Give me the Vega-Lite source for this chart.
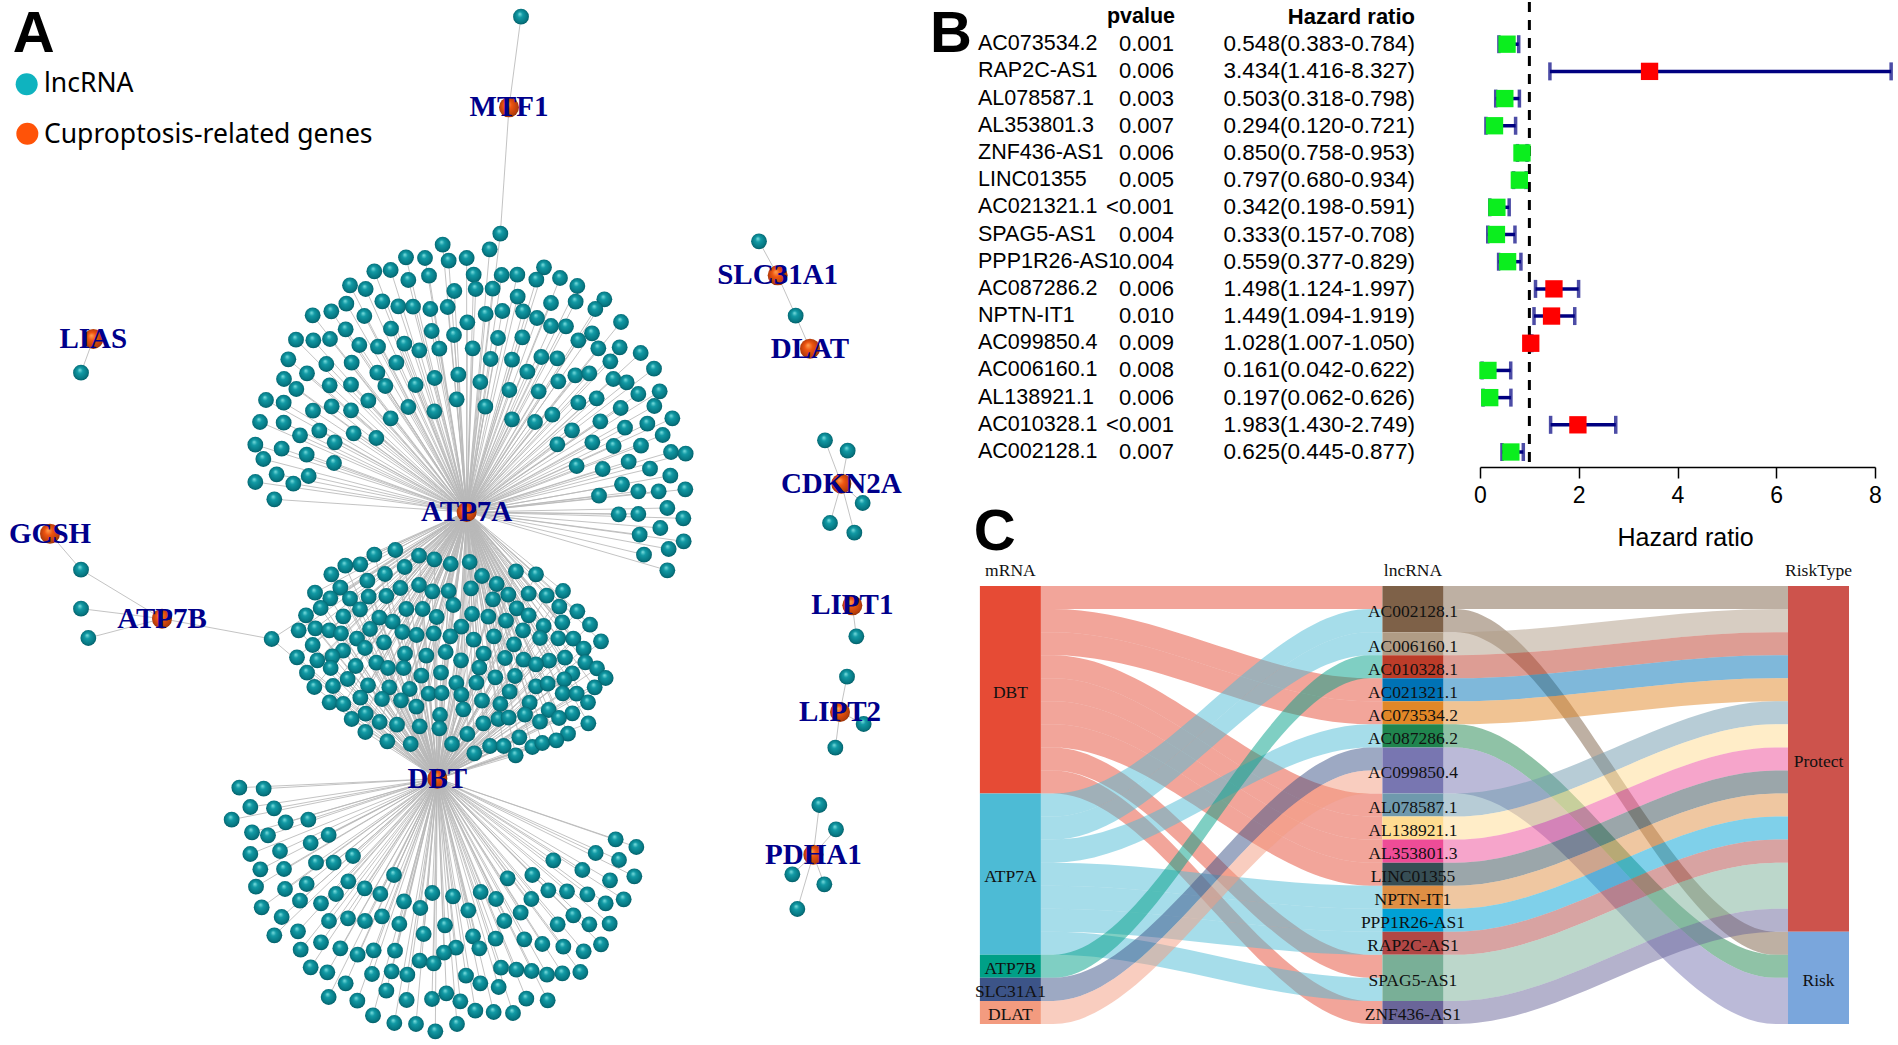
{"$schema":"https://vega.github.io/schema/vega-lite/v6.json","padding":0,"background":"white","bounds":"flush","spacing":0,"config":{"view":{"stroke":null},"concat":{"spacing":0}},
"datasets":{
"hubs":[{"gene":"MTF1","x":1527,"y":316},{"gene":"LIAS","x":280,"y":1011},{"gene":"ATP7A","x":1400,"y":1530},{"gene":"GCSH","x":150,"y":1595},{"gene":"ATP7B","x":486,"y":1850},{"gene":"DBT","x":1312,"y":2330},{"gene":"SLC31A1","x":2333,"y":820},{"gene":"DLAT","x":2430,"y":1040},{"gene":"CDKN2A","x":2524,"y":1445},{"gene":"LIPT1","x":2557,"y":1810},{"gene":"LIPT2","x":2520,"y":2130},{"gene":"PDHA1","x":2440,"y":2558}],
"nodes":[
{"x":1563,"y":44,"h":["MTF1"]},{"x":243,"y":1112,"h":["LIAS"]},{"x":243,"y":1703,"h":["GCSH","ATP7B"]},{"x":243,"y":1820,"h":["ATP7B"]},{"x":265,"y":1908,"h":["ATP7B"]},{"x":815,"y":1911,"h":["ATP7B","ATP7A","DBT"]},{"x":2277,"y":718,"h":["SLC31A1"]},{"x":2387,"y":941,"h":["SLC31A1","DLAT"]},{"x":2475,"y":1315,"h":["CDKN2A"]},{"x":2543,"y":1346,"h":["CDKN2A"]},{"x":2588,"y":1503,"h":["CDKN2A"]},{"x":2490,"y":1563,"h":["CDKN2A"]},{"x":2563,"y":1592,"h":["CDKN2A"]},{"x":2569,"y":1903,"h":["LIPT1"]},{"x":2541,"y":2024,"h":["LIPT2"]},{"x":2591,"y":2166,"h":["LIPT2"]},{"x":2506,"y":2237,"h":["LIPT2"]},{"x":2458,"y":2409,"h":["PDHA1"]},{"x":2508,"y":2482,"h":["PDHA1"]},{"x":2377,"y":2617,"h":["PDHA1"]},{"x":2473,"y":2647,"h":["PDHA1"]},{"x":2392,"y":2721,"h":["PDHA1"]},
{"x":1501,"y":695,"h":["ATP7A","MTF1"]},{"x":1469,"y":742,"h":["ATP7A"]},{"x":1328,"y":728,"h":["ATP7A"]},{"x":1218,"y":766,"h":["ATP7A"]},{"x":1275,"y":768,"h":["ATP7A"]},{"x":1346,"y":776,"h":["ATP7A"]},{"x":1400,"y":768,"h":["ATP7A"]},{"x":1123,"y":808,"h":["ATP7A"]},{"x":1172,"y":804,"h":["ATP7A"]},{"x":1225,"y":834,"h":["ATP7A"]},{"x":1287,"y":821,"h":["ATP7A"]},{"x":1421,"y":818,"h":["ATP7A"]},{"x":1505,"y":819,"h":["ATP7A"]},{"x":1552,"y":818,"h":["ATP7A"]},{"x":1632,"y":796,"h":["ATP7A"]},{"x":1609,"y":833,"h":["ATP7A"]},{"x":1680,"y":828,"h":["ATP7A"]},{"x":1732,"y":852,"h":["ATP7A"]},{"x":1050,"y":850,"h":["ATP7A"]},{"x":1097,"y":861,"h":["ATP7A"]},{"x":1363,"y":867,"h":["ATP7A"]},{"x":1427,"y":861,"h":["ATP7A"]},{"x":1478,"y":860,"h":["ATP7A"]},{"x":1553,"y":884,"h":["ATP7A"]},{"x":1813,"y":892,"h":["ATP7A"]},{"x":1727,"y":899,"h":["ATP7A"]},{"x":1653,"y":903,"h":["ATP7A"]},{"x":1786,"y":921,"h":["ATP7A"]},{"x":1039,"y":905,"h":["ATP7A"]},{"x":1147,"y":898,"h":["ATP7A"]},{"x":1195,"y":913,"h":["ATP7A"]},{"x":1239,"y":914,"h":["ATP7A"]},{"x":1291,"y":921,"h":["ATP7A"]},{"x":1343,"y":915,"h":["ATP7A"]},{"x":938,"y":940,"h":["ATP7A"]},{"x":994,"y":928,"h":["ATP7A"]},{"x":1093,"y":942,"h":["ATP7A"]},{"x":1457,"y":936,"h":["ATP7A"]},{"x":1507,"y":927,"h":["ATP7A"]},{"x":1569,"y":928,"h":["ATP7A"]},{"x":1611,"y":948,"h":["ATP7A"]},{"x":1402,"y":961,"h":["ATP7A"]},{"x":1863,"y":960,"h":["ATP7A"]},{"x":1037,"y":982,"h":["ATP7A"]},{"x":1173,"y":980,"h":["ATP7A"]},{"x":1295,"y":987,"h":["ATP7A"]},{"x":1362,"y":999,"h":["ATP7A"]},{"x":1653,"y":972,"h":["ATP7A"]},{"x":1698,"y":973,"h":["ATP7A"]},{"x":1776,"y":994,"h":["ATP7A"]},{"x":1735,"y":1015,"h":["ATP7A"]},{"x":888,"y":1013,"h":["ATP7A"]},{"x":940,"y":1015,"h":["ATP7A"]},{"x":990,"y":1011,"h":["ATP7A"]},{"x":1078,"y":1029,"h":["ATP7A"]},{"x":1134,"y":1034,"h":["ATP7A"]},{"x":1213,"y":1025,"h":["ATP7A"]},{"x":1258,"y":1045,"h":["ATP7A"]},{"x":1318,"y":1040,"h":["ATP7A"]},{"x":1418,"y":1039,"h":["ATP7A"]},{"x":1494,"y":1008,"h":["ATP7A"]},{"x":1567,"y":1006,"h":["ATP7A"]},{"x":1795,"y":1039,"h":["ATP7A"]},{"x":1859,"y":1036,"h":["ATP7A"]},{"x":1922,"y":1053,"h":["ATP7A"]},{"x":865,"y":1072,"h":["ATP7A"]},{"x":979,"y":1086,"h":["ATP7A"]},{"x":1055,"y":1082,"h":["ATP7A"]},{"x":1189,"y":1082,"h":["ATP7A"]},{"x":1472,"y":1071,"h":["ATP7A"]},{"x":1536,"y":1073,"h":["ATP7A"]},{"x":1624,"y":1065,"h":["ATP7A"]},{"x":1672,"y":1069,"h":["ATP7A"]},{"x":1831,"y":1078,"h":["ATP7A"]},{"x":1962,"y":1100,"h":["ATP7A"]},{"x":852,"y":1131,"h":["ATP7A"]},{"x":921,"y":1114,"h":["ATP7A"]},{"x":1132,"y":1112,"h":["ATP7A"]},{"x":1375,"y":1118,"h":["ATP7A"]},{"x":1304,"y":1128,"h":["ATP7A"]},{"x":1582,"y":1109,"h":["ATP7A"]},{"x":1726,"y":1120,"h":["ATP7A"]},{"x":1768,"y":1114,"h":["ATP7A"]},{"x":1840,"y":1131,"h":["ATP7A"]},{"x":1880,"y":1141,"h":["ATP7A"]},{"x":889,"y":1161,"h":["ATP7A"]},{"x":989,"y":1150,"h":["ATP7A"]},{"x":1053,"y":1148,"h":["ATP7A"]},{"x":1156,"y":1152,"h":["ATP7A"]},{"x":1247,"y":1149,"h":["ATP7A"]},{"x":1441,"y":1140,"h":["ATP7A"]},{"x":1528,"y":1164,"h":["ATP7A"]},{"x":1616,"y":1168,"h":["ATP7A"]},{"x":1675,"y":1138,"h":["ATP7A"]},{"x":1915,"y":1176,"h":["ATP7A"]},{"x":1979,"y":1168,"h":["ATP7A"]},{"x":798,"y":1194,"h":["ATP7A"]},{"x":851,"y":1202,"h":["ATP7A"]},{"x":1105,"y":1196,"h":["ATP7A"]},{"x":1370,"y":1192,"h":["ATP7A"]},{"x":1735,"y":1202,"h":["ATP7A"]},{"x":1790,"y":1189,"h":["ATP7A"]},{"x":1862,"y":1218,"h":["ATP7A"]},{"x":1963,"y":1212,"h":["ATP7A"]},{"x":939,"y":1226,"h":["ATP7A"]},{"x":995,"y":1213,"h":["ATP7A"]},{"x":1053,"y":1225,"h":["ATP7A"]},{"x":1225,"y":1215,"h":["ATP7A"]},{"x":1303,"y":1228,"h":["ATP7A"]},{"x":1456,"y":1214,"h":["ATP7A"]},{"x":1657,"y":1238,"h":["ATP7A"]},{"x":2017,"y":1249,"h":["ATP7A"]},{"x":780,"y":1260,"h":["ATP7A"]},{"x":851,"y":1262,"h":["ATP7A"]},{"x":1172,"y":1249,"h":["ATP7A"]},{"x":1536,"y":1252,"h":["ATP7A"]},{"x":1605,"y":1260,"h":["ATP7A"]},{"x":1801,"y":1258,"h":["ATP7A"]},{"x":1875,"y":1277,"h":["ATP7A"]},{"x":1942,"y":1265,"h":["ATP7A"]},{"x":958,"y":1286,"h":["ATP7A"]},{"x":900,"y":1300,"h":["ATP7A"]},{"x":1061,"y":1294,"h":["ATP7A"]},{"x":1129,"y":1308,"h":["ATP7A"]},{"x":1716,"y":1285,"h":["ATP7A"]},{"x":1988,"y":1299,"h":["ATP7A"]},{"x":766,"y":1328,"h":["ATP7A"]},{"x":1004,"y":1321,"h":["ATP7A"]},{"x":1672,"y":1327,"h":["ATP7A"]},{"x":1777,"y":1321,"h":["ATP7A"]},{"x":1841,"y":1332,"h":["ATP7A"]},{"x":1923,"y":1331,"h":["ATP7A"]},{"x":845,"y":1340,"h":["ATP7A"]},{"x":920,"y":1358,"h":["ATP7A"]},{"x":2013,"y":1350,"h":["ATP7A"]},{"x":2057,"y":1355,"h":["ATP7A"]},{"x":790,"y":1371,"h":["ATP7A"]},{"x":1002,"y":1383,"h":["ATP7A"]},{"x":1886,"y":1379,"h":["ATP7A"]},{"x":1730,"y":1392,"h":["ATP7A"]},{"x":1808,"y":1401,"h":["ATP7A"]},{"x":1950,"y":1400,"h":["ATP7A"]},{"x":830,"y":1417,"h":["ATP7A"]},{"x":926,"y":1422,"h":["ATP7A"]},{"x":2011,"y":1421,"h":["ATP7A"]},{"x":766,"y":1440,"h":["ATP7A"]},{"x":880,"y":1445,"h":["ATP7A"]},{"x":1866,"y":1447,"h":["ATP7A"]},{"x":1915,"y":1468,"h":["ATP7A"]},{"x":1976,"y":1468,"h":["ATP7A"]},{"x":2056,"y":1462,"h":["ATP7A"]},{"x":823,"y":1492,"h":["ATP7A"]},{"x":1797,"y":1481,"h":["ATP7A"]},{"x":1856,"y":1537,"h":["ATP7A"]},{"x":1915,"y":1536,"h":["ATP7A"]},{"x":2002,"y":1518,"h":["ATP7A"]},{"x":2050,"y":1549,"h":["ATP7A"]},{"x":1981,"y":1578,"h":["ATP7A"]},{"x":1919,"y":1598,"h":["ATP7A"]},{"x":2051,"y":1618,"h":["ATP7A"]},{"x":2006,"y":1641,"h":["ATP7A"]},{"x":1932,"y":1658,"h":["ATP7A"]},{"x":2002,"y":1705,"h":["ATP7A"]},
{"x":1186,"y":1644,"h":["ATP7A","DBT"]},{"x":1123,"y":1658,"h":["ATP7A","DBT"]},{"x":1081,"y":1687,"h":["ATP7A","DBT"]},{"x":1036,"y":1691,"h":["ATP7A","DBT"]},{"x":994,"y":1717,"h":["ATP7A","DBT"]},{"x":1257,"y":1661,"h":["ATP7A","DBT"]},{"x":1303,"y":1672,"h":["ATP7A","DBT"]},{"x":1352,"y":1686,"h":["ATP7A","DBT"]},{"x":1409,"y":1680,"h":["ATP7A","DBT"]},{"x":1214,"y":1695,"h":["ATP7A","DBT"]},{"x":1155,"y":1716,"h":["ATP7A","DBT"]},{"x":1102,"y":1736,"h":["ATP7A","DBT"]},{"x":1021,"y":1757,"h":["ATP7A","DBT"]},{"x":945,"y":1772,"h":["ATP7A","DBT"]},{"x":991,"y":1789,"h":["ATP7A","DBT"]},{"x":1050,"y":1790,"h":["ATP7A","DBT"]},{"x":1106,"y":1784,"h":["ATP7A","DBT"]},{"x":1159,"y":1782,"h":["ATP7A","DBT"]},{"x":1201,"y":1758,"h":["ATP7A","DBT"]},{"x":1257,"y":1749,"h":["ATP7A","DBT"]},{"x":1297,"y":1768,"h":["ATP7A","DBT"]},{"x":1346,"y":1767,"h":["ATP7A","DBT"]},{"x":1413,"y":1759,"h":["ATP7A","DBT"]},{"x":1446,"y":1722,"h":["ATP7A","DBT"]},{"x":1490,"y":1746,"h":["ATP7A","DBT"]},{"x":1548,"y":1708,"h":["ATP7A","DBT"]},{"x":1608,"y":1717,"h":["ATP7A","DBT"]},{"x":1525,"y":1778,"h":["ATP7A","DBT"]},{"x":1479,"y":1792,"h":["ATP7A","DBT"]},{"x":1586,"y":1775,"h":["ATP7A","DBT"]},{"x":1640,"y":1781,"h":["ATP7A","DBT"]},{"x":1689,"y":1767,"h":["ATP7A","DBT"]},{"x":1678,"y":1814,"h":["ATP7A","DBT"]},{"x":1732,"y":1828,"h":["ATP7A","DBT"]},{"x":962,"y":1818,"h":["ATP7A","DBT"]},{"x":918,"y":1840,"h":["ATP7A","DBT"]},{"x":1030,"y":1843,"h":["ATP7A","DBT"]},{"x":1080,"y":1822,"h":["ATP7A","DBT"]},{"x":1219,"y":1821,"h":["ATP7A","DBT"]},{"x":1268,"y":1821,"h":["ATP7A","DBT"]},{"x":1360,"y":1809,"h":["ATP7A","DBT"]},{"x":1416,"y":1836,"h":["ATP7A","DBT"]},{"x":1465,"y":1844,"h":["ATP7A","DBT"]},{"x":1550,"y":1819,"h":["ATP7A","DBT"]},{"x":1586,"y":1840,"h":["ATP7A","DBT"]},{"x":1518,"y":1856,"h":["ATP7A","DBT"]},{"x":1687,"y":1861,"h":["ATP7A","DBT"]},{"x":1770,"y":1868,"h":["ATP7A","DBT"]},{"x":1138,"y":1847,"h":["ATP7A","DBT"]},{"x":1178,"y":1859,"h":["ATP7A","DBT"]},{"x":1310,"y":1845,"h":["ATP7A","DBT"]},{"x":1631,"y":1872,"h":["ATP7A","DBT"]},{"x":896,"y":1885,"h":["ATP7A","DBT"]},{"x":946,"y":1879,"h":["ATP7A","DBT"]},{"x":988,"y":1885,"h":["ATP7A","DBT"]},{"x":1023,"y":1894,"h":["ATP7A","DBT"]},{"x":1110,"y":1881,"h":["ATP7A","DBT"]},{"x":1207,"y":1890,"h":["ATP7A","DBT"]},{"x":1250,"y":1899,"h":["ATP7A","DBT"]},{"x":1301,"y":1894,"h":["ATP7A","DBT"]},{"x":1384,"y":1874,"h":["ATP7A","DBT"]},{"x":1569,"y":1885,"h":["ATP7A","DBT"]},{"x":1071,"y":1910,"h":["ATP7A","DBT"]},{"x":1351,"y":1903,"h":["ATP7A","DBT"]},{"x":1421,"y":1913,"h":["ATP7A","DBT"]},{"x":1482,"y":1903,"h":["ATP7A","DBT"]},{"x":1620,"y":1908,"h":["ATP7A","DBT"]},{"x":1675,"y":1909,"h":["ATP7A","DBT"]},{"x":1720,"y":1910,"h":["ATP7A","DBT"]},{"x":1803,"y":1918,"h":["ATP7A","DBT"]},{"x":938,"y":1929,"h":["ATP7A","DBT"]},{"x":1152,"y":1921,"h":["ATP7A","DBT"]},{"x":1095,"y":1938,"h":["ATP7A","DBT"]},{"x":1542,"y":1927,"h":["ATP7A","DBT"]},{"x":1751,"y":1940,"h":["ATP7A","DBT"]},{"x":1029,"y":1946,"h":["ATP7A","DBT"]},{"x":997,"y":1963,"h":["ATP7A","DBT"]},{"x":891,"y":1966,"h":["ATP7A","DBT"]},{"x":952,"y":1975,"h":["ATP7A","DBT"]},{"x":1215,"y":1955,"h":["ATP7A","DBT"]},{"x":1279,"y":1961,"h":["ATP7A","DBT"]},{"x":1337,"y":1950,"h":["ATP7A","DBT"]},{"x":1451,"y":1955,"h":["ATP7A","DBT"]},{"x":1515,"y":1968,"h":["ATP7A","DBT"]},{"x":1571,"y":1973,"h":["ATP7A","DBT"]},{"x":1647,"y":1976,"h":["ATP7A","DBT"]},{"x":1695,"y":1967,"h":["ATP7A","DBT"]},{"x":1756,"y":1981,"h":["ATP7A","DBT"]},{"x":1129,"y":1982,"h":["ATP7A","DBT"]},{"x":1383,"y":1975,"h":["ATP7A","DBT"]},{"x":1608,"y":1987,"h":["ATP7A","DBT"]},{"x":1067,"y":1992,"h":["ATP7A","DBT"]},{"x":992,"y":1998,"h":["ATP7A","DBT"]},{"x":1164,"y":1998,"h":["ATP7A","DBT"]},{"x":1211,"y":1998,"h":["ATP7A","DBT"]},{"x":1438,"y":1997,"h":["ATP7A","DBT"]},{"x":1791,"y":1999,"h":["ATP7A","DBT"]},{"x":921,"y":2012,"h":["ATP7A","DBT"]},{"x":1264,"y":2021,"h":["ATP7A","DBT"]},{"x":1323,"y":2012,"h":["ATP7A","DBT"]},{"x":1486,"y":2026,"h":["ATP7A","DBT"]},{"x":1545,"y":2022,"h":["ATP7A","DBT"]},{"x":1717,"y":2014,"h":["ATP7A","DBT"]},{"x":1043,"y":2031,"h":["ATP7A","DBT"]},{"x":1369,"y":2043,"h":["ATP7A","DBT"]},{"x":1429,"y":2042,"h":["ATP7A","DBT"]},{"x":1693,"y":2032,"h":["ATP7A","DBT"]},{"x":1817,"y":2028,"h":["ATP7A","DBT"]},{"x":943,"y":2055,"h":["ATP7A","DBT"]},{"x":999,"y":2052,"h":["ATP7A","DBT"]},{"x":1104,"y":2050,"h":["ATP7A","DBT"]},{"x":1168,"y":2056,"h":["ATP7A","DBT"]},{"x":1229,"y":2061,"h":["ATP7A","DBT"]},{"x":1608,"y":2053,"h":["ATP7A","DBT"]},{"x":1643,"y":2045,"h":["ATP7A","DBT"]},{"x":1784,"y":2056,"h":["ATP7A","DBT"]},{"x":1286,"y":2075,"h":["ATP7A","DBT"]},{"x":1325,"y":2073,"h":["ATP7A","DBT"]},{"x":1384,"y":2078,"h":["ATP7A","DBT"]},{"x":1529,"y":2069,"h":["ATP7A","DBT"]},{"x":1081,"y":2087,"h":["ATP7A","DBT"]},{"x":1146,"y":2091,"h":["ATP7A","DBT"]},{"x":1203,"y":2095,"h":["ATP7A","DBT"]},{"x":1688,"y":2074,"h":["ATP7A","DBT"]},{"x":1730,"y":2075,"h":["ATP7A","DBT"]},{"x":989,"y":2101,"h":["ATP7A","DBT"]},{"x":1030,"y":2106,"h":["ATP7A","DBT"]},{"x":1446,"y":2096,"h":["ATP7A","DBT"]},{"x":1501,"y":2106,"h":["ATP7A","DBT"]},{"x":1589,"y":2102,"h":["ATP7A","DBT"]},{"x":1764,"y":2101,"h":["ATP7A","DBT"]},{"x":1249,"y":2114,"h":["ATP7A","DBT"]},{"x":1390,"y":2122,"h":["ATP7A","DBT"]},{"x":1646,"y":2124,"h":["ATP7A","DBT"]},{"x":1097,"y":2135,"h":["ATP7A","DBT"]},{"x":1320,"y":2139,"h":["ATP7A","DBT"]},{"x":1575,"y":2138,"h":["ATP7A","DBT"]},{"x":1717,"y":2134,"h":["ATP7A","DBT"]},{"x":1055,"y":2151,"h":["ATP7A","DBT"]},{"x":1139,"y":2160,"h":["ATP7A","DBT"]},{"x":1495,"y":2151,"h":["ATP7A","DBT"]},{"x":1526,"y":2147,"h":["ATP7A","DBT"]},{"x":1677,"y":2148,"h":["ATP7A","DBT"]},{"x":1191,"y":2168,"h":["ATP7A","DBT"]},{"x":1259,"y":2173,"h":["ATP7A","DBT"]},{"x":1318,"y":2179,"h":["ATP7A","DBT"]},{"x":1450,"y":2164,"h":["ATP7A","DBT"]},{"x":1620,"y":2159,"h":["ATP7A","DBT"]},{"x":1765,"y":2164,"h":["ATP7A","DBT"]},{"x":1096,"y":2190,"h":["ATP7A","DBT"]},{"x":1402,"y":2196,"h":["ATP7A","DBT"]},{"x":1558,"y":2206,"h":["ATP7A","DBT"]},{"x":1704,"y":2195,"h":["ATP7A","DBT"]},{"x":1162,"y":2218,"h":["ATP7A","DBT"]},{"x":1232,"y":2226,"h":["ATP7A","DBT"]},{"x":1356,"y":2226,"h":["ATP7A","DBT"]},{"x":1470,"y":2232,"h":["ATP7A","DBT"]},{"x":1511,"y":2232,"h":["ATP7A","DBT"]},{"x":1597,"y":2235,"h":["ATP7A","DBT"]},{"x":1627,"y":2223,"h":["ATP7A","DBT"]},{"x":1669,"y":2215,"h":["ATP7A","DBT"]},{"x":1423,"y":2254,"h":["ATP7A","DBT"]},{"x":1547,"y":2260,"h":["ATP7A","DBT"]},
{"x":718,"y":2357,"h":["DBT"]},{"x":791,"y":2360,"h":["DBT"]},{"x":751,"y":2415,"h":["DBT"]},{"x":822,"y":2419,"h":["DBT"]},{"x":695,"y":2453,"h":["DBT"]},{"x":857,"y":2461,"h":["DBT"]},{"x":925,"y":2453,"h":["DBT"]},{"x":756,"y":2491,"h":["DBT"]},{"x":804,"y":2500,"h":["DBT"]},{"x":986,"y":2499,"h":["DBT"]},{"x":932,"y":2523,"h":["DBT"]},{"x":840,"y":2547,"h":["DBT"]},{"x":751,"y":2556,"h":["DBT"]},{"x":1059,"y":2562,"h":["DBT"]},{"x":948,"y":2582,"h":["DBT"]},{"x":1001,"y":2582,"h":["DBT"]},{"x":781,"y":2602,"h":["DBT"]},{"x":852,"y":2601,"h":["DBT"]},{"x":1182,"y":2619,"h":["DBT"]},{"x":920,"y":2646,"h":["DBT"]},{"x":768,"y":2654,"h":["DBT"]},{"x":855,"y":2661,"h":["DBT"]},{"x":1045,"y":2638,"h":["DBT"]},{"x":1094,"y":2659,"h":["DBT"]},{"x":1008,"y":2676,"h":["DBT"]},{"x":1141,"y":2676,"h":["DBT"]},{"x":900,"y":2696,"h":["DBT"]},{"x":963,"y":2704,"h":["DBT"]},{"x":785,"y":2716,"h":["DBT"]},{"x":1212,"y":2698,"h":["DBT"]},{"x":1261,"y":2718,"h":["DBT"]},{"x":1297,"y":2673,"h":["DBT"]},{"x":1359,"y":2683,"h":["DBT"]},{"x":1442,"y":2670,"h":["DBT"]},{"x":1488,"y":2691,"h":["DBT"]},{"x":1405,"y":2725,"h":["DBT"]},{"x":1523,"y":2629,"h":["DBT"]},{"x":1597,"y":2619,"h":["DBT"]},{"x":1660,"y":2575,"h":["DBT"]},{"x":1747,"y":2604,"h":["DBT"]},{"x":1787,"y":2553,"h":["DBT"]},{"x":1847,"y":2512,"h":["DBT"]},{"x":1909,"y":2535,"h":["DBT"]},{"x":1857,"y":2574,"h":["DBT"]},{"x":1903,"y":2623,"h":["DBT"]},{"x":1830,"y":2635,"h":["DBT"]},{"x":1645,"y":2665,"h":["DBT"]},{"x":1701,"y":2668,"h":["DBT"]},{"x":1762,"y":2677,"h":["DBT"]},{"x":1594,"y":2691,"h":["DBT"]},{"x":1817,"y":2704,"h":["DBT"]},{"x":1871,"y":2692,"h":["DBT"]},{"x":1562,"y":2732,"h":["DBT"]},{"x":1720,"y":2740,"h":["DBT"]},{"x":845,"y":2745,"h":["DBT"]},{"x":987,"y":2757,"h":["DBT"]},{"x":1044,"y":2749,"h":["DBT"]},{"x":1095,"y":2757,"h":["DBT"]},{"x":1146,"y":2743,"h":["DBT"]},{"x":1198,"y":2766,"h":["DBT"]},{"x":1513,"y":2757,"h":["DBT"]},{"x":1673,"y":2767,"h":["DBT"]},{"x":1768,"y":2767,"h":["DBT"]},{"x":1829,"y":2765,"h":["DBT"]},{"x":1335,"y":2770,"h":["DBT"]},{"x":823,"y":2800,"h":["DBT"]},{"x":894,"y":2788,"h":["DBT"]},{"x":1271,"y":2796,"h":["DBT"]},{"x":1419,"y":2803,"h":["DBT"]},{"x":1487,"y":2810,"h":["DBT"]},{"x":1573,"y":2812,"h":["DBT"]},{"x":963,"y":2821,"h":["DBT"]},{"x":1627,"y":2826,"h":["DBT"]},{"x":1690,"y":2834,"h":["DBT"]},{"x":1803,"y":2827,"h":["DBT"]},{"x":1751,"y":2848,"h":["DBT"]},{"x":902,"y":2843,"h":["DBT"]},{"x":1021,"y":2839,"h":["DBT"]},{"x":1121,"y":2845,"h":["DBT"]},{"x":1185,"y":2846,"h":["DBT"]},{"x":1073,"y":2858,"h":["DBT"]},{"x":1368,"y":2837,"h":["DBT"]},{"x":1438,"y":2839,"h":["DBT"]},{"x":1332,"y":2852,"h":["DBT"]},{"x":1259,"y":2876,"h":["DBT"]},{"x":1301,"y":2884,"h":["DBT"]},{"x":932,"y":2896,"h":["DBT"]},{"x":982,"y":2911,"h":["DBT"]},{"x":1175,"y":2908,"h":["DBT"]},{"x":1116,"y":2916,"h":["DBT"]},{"x":1222,"y":2918,"h":["DBT"]},{"x":1398,"y":2921,"h":["DBT"]},{"x":1503,"y":2897,"h":["DBT"]},{"x":1549,"y":2903,"h":["DBT"]},{"x":1595,"y":2907,"h":["DBT"]},{"x":1641,"y":2918,"h":["DBT"]},{"x":1687,"y":2914,"h":["DBT"]},{"x":1741,"y":2910,"h":["DBT"]},{"x":1037,"y":2944,"h":["DBT"]},{"x":1441,"y":2944,"h":["DBT"]},{"x":1496,"y":2955,"h":["DBT"]},{"x":1159,"y":2966,"h":["DBT"]},{"x":986,"y":2985,"h":["DBT"]},{"x":1072,"y":2996,"h":["DBT"]},{"x":1220,"y":2994,"h":["DBT"]},{"x":1296,"y":2991,"h":["DBT"]},{"x":1339,"y":2974,"h":["DBT"]},{"x":1381,"y":2998,"h":["DBT"]},{"x":1579,"y":2990,"h":["DBT"]},{"x":1643,"y":2995,"h":["DBT"]},{"x":1119,"y":3040,"h":["DBT"]},{"x":1426,"y":3026,"h":["DBT"]},{"x":1481,"y":3030,"h":["DBT"]},{"x":1539,"y":3033,"h":["DBT"]},{"x":1183,"y":3063,"h":["DBT"]},{"x":1248,"y":3066,"h":["DBT"]},{"x":1371,"y":3066,"h":["DBT"]},{"x":1306,"y":3088,"h":["DBT"]}],
"forest":[{"gene":"AC073534.2","p":"0.001","hr":0.548,"lo":0.383,"hi":0.784,"txt":"0.548(0.383-0.784)"},{"gene":"RAP2C-AS1","p":"0.006","hr":3.434,"lo":1.416,"hi":8.327,"txt":"3.434(1.416-8.327)"},{"gene":"AL078587.1","p":"0.003","hr":0.503,"lo":0.318,"hi":0.798,"txt":"0.503(0.318-0.798)"},{"gene":"AL353801.3","p":"0.007","hr":0.294,"lo":0.12,"hi":0.721,"txt":"0.294(0.120-0.721)"},{"gene":"ZNF436-AS1","p":"0.006","hr":0.85,"lo":0.758,"hi":0.953,"txt":"0.850(0.758-0.953)"},{"gene":"LINC01355","p":"0.005","hr":0.797,"lo":0.68,"hi":0.934,"txt":"0.797(0.680-0.934)"},{"gene":"AC021321.1","p":"<0.001","hr":0.342,"lo":0.198,"hi":0.591,"txt":"0.342(0.198-0.591)"},{"gene":"SPAG5-AS1","p":"0.004","hr":0.333,"lo":0.157,"hi":0.708,"txt":"0.333(0.157-0.708)"},{"gene":"PPP1R26-AS1","p":"0.004","hr":0.559,"lo":0.377,"hi":0.829,"txt":"0.559(0.377-0.829)"},{"gene":"AC087286.2","p":"0.006","hr":1.498,"lo":1.124,"hi":1.997,"txt":"1.498(1.124-1.997)"},{"gene":"NPTN-IT1","p":"0.010","hr":1.449,"lo":1.094,"hi":1.919,"txt":"1.449(1.094-1.919)"},{"gene":"AC099850.4","p":"0.009","hr":1.028,"lo":1.007,"hi":1.05,"txt":"1.028(1.007-1.050)"},{"gene":"AC006160.1","p":"0.008","hr":0.161,"lo":0.042,"hi":0.622,"txt":"0.161(0.042-0.622)"},{"gene":"AL138921.1","p":"0.006","hr":0.197,"lo":0.062,"hi":0.626,"txt":"0.197(0.062-0.626)"},{"gene":"AC010328.1","p":"<0.001","hr":1.983,"lo":1.43,"hi":2.749,"txt":"1.983(1.430-2.749)"},{"gene":"AC002128.1","p":"0.007","hr":0.625,"lo":0.445,"hi":0.877,"txt":"0.625(0.445-0.877)"}],
"strata":[{"n":"DBT","x0":0,"x1":1,"y0":0,"y1":9,"xc":0.5,"yc":4.5},{"n":"ATP7A","x0":0,"x1":1,"y0":9,"y1":16,"xc":0.5,"yc":12.5},{"n":"ATP7B","x0":0,"x1":1,"y0":16,"y1":17,"xc":0.5,"yc":16.5},{"n":"SLC31A1","x0":0,"x1":1,"y0":17,"y1":18,"xc":0.5,"yc":17.5},{"n":"DLAT","x0":0,"x1":1,"y0":18,"y1":19,"xc":0.5,"yc":18.5},
{"n":"AC002128.1","x0":6.6,"x1":7.6,"y0":0,"y1":2,"xc":7.1,"yc":1},{"n":"AC006160.1","x0":6.6,"x1":7.6,"y0":2,"y1":3,"xc":7.1,"yc":2.5},{"n":"AC010328.1","x0":6.6,"x1":7.6,"y0":3,"y1":4,"xc":7.1,"yc":3.5},{"n":"AC021321.1","x0":6.6,"x1":7.6,"y0":4,"y1":5,"xc":7.1,"yc":4.5},{"n":"AC073534.2","x0":6.6,"x1":7.6,"y0":5,"y1":6,"xc":7.1,"yc":5.5},{"n":"AC087286.2","x0":6.6,"x1":7.6,"y0":6,"y1":7,"xc":7.1,"yc":6.5},{"n":"AC099850.4","x0":6.6,"x1":7.6,"y0":7,"y1":9,"xc":7.1,"yc":8},{"n":"AL078587.1","x0":6.6,"x1":7.6,"y0":9,"y1":10,"xc":7.1,"yc":9.5},{"n":"AL138921.1","x0":6.6,"x1":7.6,"y0":10,"y1":11,"xc":7.1,"yc":10.5},{"n":"AL353801.3","x0":6.6,"x1":7.6,"y0":11,"y1":12,"xc":7.1,"yc":11.5},{"n":"LINC01355","x0":6.6,"x1":7.6,"y0":12,"y1":13,"xc":7.1,"yc":12.5},{"n":"NPTN-IT1","x0":6.6,"x1":7.6,"y0":13,"y1":14,"xc":7.1,"yc":13.5},{"n":"PPP1R26-AS1","x0":6.6,"x1":7.6,"y0":14,"y1":15,"xc":7.1,"yc":14.5},{"n":"RAP2C-AS1","x0":6.6,"x1":7.6,"y0":15,"y1":16,"xc":7.1,"yc":15.5},{"n":"SPAG5-AS1","x0":6.6,"x1":7.6,"y0":16,"y1":18,"xc":7.1,"yc":17},{"n":"ZNF436-AS1","x0":6.6,"x1":7.6,"y0":18,"y1":19,"xc":7.1,"yc":18.5},
{"n":"Protect","x0":13.25,"x1":14.25,"y0":0,"y1":15,"xc":13.75,"yc":7.5},{"n":"Risk","x0":13.25,"x1":14.25,"y0":15,"y1":19,"xc":13.75,"yc":17}],
"flows":[
{"s":"DBT","t":0,"x":1,"a":0,"b":1},{"s":"DBT","t":0,"x":1.2,"a":0,"b":1},{"s":"DBT","t":0,"x":6.4,"a":0,"b":1},{"s":"DBT","t":0,"x":6.6,"a":0,"b":1},
{"s":"DBT","t":4,"x":1,"a":1,"b":2},{"s":"DBT","t":4,"x":1.2,"a":1,"b":2},{"s":"DBT","t":4,"x":6.4,"a":4,"b":5},{"s":"DBT","t":4,"x":6.6,"a":4,"b":5},
{"s":"DBT","t":5,"x":1,"a":2,"b":3},{"s":"DBT","t":5,"x":1.2,"a":2,"b":3},{"s":"DBT","t":5,"x":6.4,"a":5,"b":6},{"s":"DBT","t":5,"x":6.6,"a":5,"b":6},
{"s":"DBT","t":9,"x":1,"a":3,"b":4},{"s":"DBT","t":9,"x":1.2,"a":3,"b":4},{"s":"DBT","t":9,"x":6.4,"a":9,"b":10},{"s":"DBT","t":9,"x":6.6,"a":9,"b":10},
{"s":"DBT","t":10,"x":1,"a":4,"b":5},{"s":"DBT","t":10,"x":1.2,"a":4,"b":5},{"s":"DBT","t":10,"x":6.4,"a":10,"b":11},{"s":"DBT","t":10,"x":6.6,"a":10,"b":11},
{"s":"DBT","t":11,"x":1,"a":5,"b":6},{"s":"DBT","t":11,"x":1.2,"a":5,"b":6},{"s":"DBT","t":11,"x":6.4,"a":11,"b":12},{"s":"DBT","t":11,"x":6.6,"a":11,"b":12},
{"s":"DBT","t":12,"x":1,"a":6,"b":7},{"s":"DBT","t":12,"x":1.2,"a":6,"b":7},{"s":"DBT","t":12,"x":6.4,"a":12,"b":13},{"s":"DBT","t":12,"x":6.6,"a":12,"b":13},
{"s":"DBT","t":16,"x":1,"a":7,"b":8},{"s":"DBT","t":16,"x":1.2,"a":7,"b":8},{"s":"DBT","t":16,"x":6.4,"a":16,"b":17},{"s":"DBT","t":16,"x":6.6,"a":16,"b":17},
{"s":"DBT","t":18,"x":1,"a":8,"b":9},{"s":"DBT","t":18,"x":1.2,"a":8,"b":9},{"s":"DBT","t":18,"x":6.4,"a":18,"b":19},{"s":"DBT","t":18,"x":6.6,"a":18,"b":19},
{"s":"ATP7A","t":1,"x":1,"a":9,"b":10},{"s":"ATP7A","t":1,"x":1.2,"a":9,"b":10},{"s":"ATP7A","t":1,"x":6.4,"a":1,"b":2},{"s":"ATP7A","t":1,"x":6.6,"a":1,"b":2},
{"s":"ATP7A","t":2,"x":1,"a":10,"b":11},{"s":"ATP7A","t":2,"x":1.2,"a":10,"b":11},{"s":"ATP7A","t":2,"x":6.4,"a":2,"b":3},{"s":"ATP7A","t":2,"x":6.6,"a":2,"b":3},
{"s":"ATP7A","t":6,"x":1,"a":11,"b":12},{"s":"ATP7A","t":6,"x":1.2,"a":11,"b":12},{"s":"ATP7A","t":6,"x":6.4,"a":6,"b":7},{"s":"ATP7A","t":6,"x":6.6,"a":6,"b":7},
{"s":"ATP7A","t":13,"x":1,"a":12,"b":13},{"s":"ATP7A","t":13,"x":1.2,"a":12,"b":13},{"s":"ATP7A","t":13,"x":6.4,"a":13,"b":14},{"s":"ATP7A","t":13,"x":6.6,"a":13,"b":14},
{"s":"ATP7A","t":14,"x":1,"a":13,"b":14},{"s":"ATP7A","t":14,"x":1.2,"a":13,"b":14},{"s":"ATP7A","t":14,"x":6.4,"a":14,"b":15},{"s":"ATP7A","t":14,"x":6.6,"a":14,"b":15},
{"s":"ATP7A","t":15,"x":1,"a":14,"b":15},{"s":"ATP7A","t":15,"x":1.2,"a":14,"b":15},{"s":"ATP7A","t":15,"x":6.4,"a":15,"b":16},{"s":"ATP7A","t":15,"x":6.6,"a":15,"b":16},
{"s":"ATP7A","t":17,"x":1,"a":15,"b":16},{"s":"ATP7A","t":17,"x":1.2,"a":15,"b":16},{"s":"ATP7A","t":17,"x":6.4,"a":17,"b":18},{"s":"ATP7A","t":17,"x":6.6,"a":17,"b":18},
{"s":"ATP7B","t":3,"x":1,"a":16,"b":17},{"s":"ATP7B","t":3,"x":1.2,"a":16,"b":17},{"s":"ATP7B","t":3,"x":6.4,"a":3,"b":4},{"s":"ATP7B","t":3,"x":6.6,"a":3,"b":4},
{"s":"SLC31A1","t":7,"x":1,"a":17,"b":18},{"s":"SLC31A1","t":7,"x":1.2,"a":17,"b":18},{"s":"SLC31A1","t":7,"x":6.4,"a":7,"b":8},{"s":"SLC31A1","t":7,"x":6.6,"a":7,"b":8},
{"s":"DLAT","t":8,"x":1,"a":18,"b":19},{"s":"DLAT","t":8,"x":1.2,"a":18,"b":19},{"s":"DLAT","t":8,"x":6.4,"a":8,"b":9},{"s":"DLAT","t":8,"x":6.6,"a":8,"b":9},
{"s":"AC002128.1","t":0,"x":7.6,"a":0,"b":1},{"s":"AC002128.1","t":0,"x":7.8,"a":0,"b":1},{"s":"AC002128.1","t":0,"x":13.05,"a":0,"b":1},{"s":"AC002128.1","t":0,"x":13.25,"a":0,"b":1},
{"s":"AC002128.1","t":15,"x":7.6,"a":1,"b":2},{"s":"AC002128.1","t":15,"x":7.8,"a":1,"b":2},{"s":"AC002128.1","t":15,"x":13.05,"a":15,"b":16},{"s":"AC002128.1","t":15,"x":13.25,"a":15,"b":16},
{"s":"AC006160.1","t":1,"x":7.6,"a":2,"b":3},{"s":"AC006160.1","t":1,"x":7.8,"a":2,"b":3},{"s":"AC006160.1","t":1,"x":13.05,"a":1,"b":2},{"s":"AC006160.1","t":1,"x":13.25,"a":1,"b":2},
{"s":"AC010328.1","t":2,"x":7.6,"a":3,"b":4},{"s":"AC010328.1","t":2,"x":7.8,"a":3,"b":4},{"s":"AC010328.1","t":2,"x":13.05,"a":2,"b":3},{"s":"AC010328.1","t":2,"x":13.25,"a":2,"b":3},
{"s":"AC021321.1","t":3,"x":7.6,"a":4,"b":5},{"s":"AC021321.1","t":3,"x":7.8,"a":4,"b":5},{"s":"AC021321.1","t":3,"x":13.05,"a":3,"b":4},{"s":"AC021321.1","t":3,"x":13.25,"a":3,"b":4},
{"s":"AC073534.2","t":4,"x":7.6,"a":5,"b":6},{"s":"AC073534.2","t":4,"x":7.8,"a":5,"b":6},{"s":"AC073534.2","t":4,"x":13.05,"a":4,"b":5},{"s":"AC073534.2","t":4,"x":13.25,"a":4,"b":5},
{"s":"AC087286.2","t":16,"x":7.6,"a":6,"b":7},{"s":"AC087286.2","t":16,"x":7.8,"a":6,"b":7},{"s":"AC087286.2","t":16,"x":13.05,"a":16,"b":17},{"s":"AC087286.2","t":16,"x":13.25,"a":16,"b":17},
{"s":"AC099850.4","t":17,"x":7.6,"a":7,"b":9},{"s":"AC099850.4","t":17,"x":7.8,"a":7,"b":9},{"s":"AC099850.4","t":17,"x":13.05,"a":17,"b":19},{"s":"AC099850.4","t":17,"x":13.25,"a":17,"b":19},
{"s":"AL078587.1","t":5,"x":7.6,"a":9,"b":10},{"s":"AL078587.1","t":5,"x":7.8,"a":9,"b":10},{"s":"AL078587.1","t":5,"x":13.05,"a":5,"b":6},{"s":"AL078587.1","t":5,"x":13.25,"a":5,"b":6},
{"s":"AL138921.1","t":6,"x":7.6,"a":10,"b":11},{"s":"AL138921.1","t":6,"x":7.8,"a":10,"b":11},{"s":"AL138921.1","t":6,"x":13.05,"a":6,"b":7},{"s":"AL138921.1","t":6,"x":13.25,"a":6,"b":7},
{"s":"AL353801.3","t":7,"x":7.6,"a":11,"b":12},{"s":"AL353801.3","t":7,"x":7.8,"a":11,"b":12},{"s":"AL353801.3","t":7,"x":13.05,"a":7,"b":8},{"s":"AL353801.3","t":7,"x":13.25,"a":7,"b":8},
{"s":"LINC01355","t":8,"x":7.6,"a":12,"b":13},{"s":"LINC01355","t":8,"x":7.8,"a":12,"b":13},{"s":"LINC01355","t":8,"x":13.05,"a":8,"b":9},{"s":"LINC01355","t":8,"x":13.25,"a":8,"b":9},
{"s":"NPTN-IT1","t":9,"x":7.6,"a":13,"b":14},{"s":"NPTN-IT1","t":9,"x":7.8,"a":13,"b":14},{"s":"NPTN-IT1","t":9,"x":13.05,"a":9,"b":10},{"s":"NPTN-IT1","t":9,"x":13.25,"a":9,"b":10},
{"s":"PPP1R26-AS1","t":10,"x":7.6,"a":14,"b":15},{"s":"PPP1R26-AS1","t":10,"x":7.8,"a":14,"b":15},{"s":"PPP1R26-AS1","t":10,"x":13.05,"a":10,"b":11},{"s":"PPP1R26-AS1","t":10,"x":13.25,"a":10,"b":11},
{"s":"RAP2C-AS1","t":11,"x":7.6,"a":15,"b":16},{"s":"RAP2C-AS1","t":11,"x":7.8,"a":15,"b":16},{"s":"RAP2C-AS1","t":11,"x":13.05,"a":11,"b":12},{"s":"RAP2C-AS1","t":11,"x":13.25,"a":11,"b":12},
{"s":"SPAG5-AS1","t":12,"x":7.6,"a":16,"b":18},{"s":"SPAG5-AS1","t":12,"x":7.8,"a":16,"b":18},{"s":"SPAG5-AS1","t":12,"x":13.05,"a":12,"b":14},{"s":"SPAG5-AS1","t":12,"x":13.25,"a":12,"b":14},
{"s":"ZNF436-AS1","t":14,"x":7.6,"a":18,"b":19},{"s":"ZNF436-AS1","t":14,"x":7.8,"a":18,"b":19},{"s":"ZNF436-AS1","t":14,"x":13.05,"a":14,"b":15},{"s":"ZNF436-AS1","t":14,"x":13.25,"a":14,"b":15}]
},
"hconcat":[
{"width":925,"height":1045,
"encoding":{"x":{"field":"x","type":"quantitative","scale":{"domain":[0,2775],"nice":false,"zero":false},"axis":null},"y":{"field":"y","type":"quantitative","scale":{"domain":[0,3135],"nice":false,"zero":false,"reverse":true},"axis":null}},
"layer":[
{"data":{"name":"nodes"},"transform":[{"flatten":["h"]},{"lookup":"h","from":{"data":{"name":"hubs"},"key":"gene","fields":["x","y"]},"as":["hx","hy"]}],"mark":{"type":"rule","color":"#b8b8b8","strokeWidth":1,"opacity":0.85},"encoding":{"x2":{"field":"hx"},"y2":{"field":"hy"}}},
{"data":{"name":"nodes"},"mark":{"type":"point","filled":true,"opacity":1,"size":250,"fill":{"gradient":"radial","x1":0.42,"y1":0.32,"r1":0,"x2":0.5,"y2":0.5,"r2":0.58,"stops":[{"offset":0,"color":"#7fe0e0"},{"offset":0.3,"color":"#129aa5"},{"offset":0.75,"color":"#067681"},{"offset":1,"color":"#034a52"}]}}},
{"data":{"name":"hubs"},"mark":{"type":"point","filled":true,"opacity":1,"size":400,"fill":{"gradient":"radial","x1":0.4,"y1":0.32,"r1":0,"x2":0.5,"y2":0.5,"r2":0.58,"stops":[{"offset":0,"color":"#ffa050"},{"offset":0.35,"color":"#ee5410"},{"offset":0.8,"color":"#b53c0a"},{"offset":1,"color":"#702508"}]}}},
{"data":{"name":"hubs"},"mark":{"type":"text","font":"Liberation Serif","fontWeight":"bold","fontSize":29,"fill":"#00008b","baseline":"middle"},"encoding":{"text":{"field":"gene"}}},
{"data":{"values":[{"x":80,"y":247,"k":"lncRNA"},{"x":82,"y":395,"k":"Cuproptosis-related genes"}]},"mark":{"type":"point","filled":true,"opacity":1,"size":484},"encoding":{"color":{"condition":{"test":"datum.k=='lncRNA'","value":"#0fb3bf"},"value":"#ff5308"}}},
{"data":{"values":[{"x":132,"y":247,"k":"lncRNA"},{"x":132,"y":400,"k":"Cuproptosis-related genes"}]},"mark":{"type":"text","font":"Noto Sans","fontSize":26.5,"align":"left","baseline":"middle","fill":"black"},"encoding":{"text":{"field":"k"}}},
{"data":{"values":[{"x":38,"y":98,"k":"A"}]},"mark":{"type":"text","font":"Liberation Sans","fontWeight":"bold","fontSize":58,"align":"left","baseline":"middle","fill":"black"},"encoding":{"text":{"field":"k"}}}
]},
{"bounds":"flush","spacing":467,"vconcat":[
{"bounds":"flush","spacing":0,"hconcat":[
{"width":555,"height":465,"data":{"name":"forest"},
"encoding":{"y":{"field":"gene","type":"nominal","axis":null,"sort":null,"scale":{"type":"point","padding":0,"range":[15,450],"domain":["","AC073534.2","RAP2C-AS1","AL078587.1","AL353801.3","ZNF436-AS1","LINC01355","AC021321.1","SPAG5-AS1","PPP1R26-AS1","AC087286.2","NPTN-IT1","AC099850.4","AC006160.1","AL138921.1","AC010328.1","AC002128.1"]}}},
"layer":[
{"mark":{"type":"text","font":"Liberation Sans","fontSize":21.5,"align":"left","baseline":"middle"},"encoding":{"x":{"datum":53,"type":"quantitative","scale":{"domain":[0,555],"nice":false,"zero":false},"axis":null},"text":{"field":"gene"}}},
{"mark":{"type":"text","font":"Liberation Sans","fontSize":22,"align":"right","baseline":"middle"},"encoding":{"x":{"datum":249,"type":"quantitative"},"text":{"field":"p"}}},
{"mark":{"type":"text","font":"Liberation Sans","fontSize":22.5,"align":"right","baseline":"middle"},"encoding":{"x":{"datum":490,"type":"quantitative"},"text":{"field":"txt"}}},
{"data":{"values":[{"gene":"","a":"pvalue","b":"Hazard ratio","c":"B"}]},"layer":[
{"mark":{"type":"text","font":"Liberation Sans","fontWeight":"bold","fontSize":21.5,"align":"right","baseline":"middle"},"encoding":{"x":{"datum":250,"type":"quantitative"},"text":{"field":"a"}}},
{"mark":{"type":"text","font":"Liberation Sans","fontWeight":"bold","fontSize":22,"align":"right","baseline":"middle"},"encoding":{"x":{"datum":490,"type":"quantitative"},"text":{"field":"b"}}},
{"mark":{"type":"text","font":"Liberation Sans","fontWeight":"bold","fontSize":58,"align":"left","baseline":"middle","dy":18},"encoding":{"x":{"datum":5,"type":"quantitative"},"text":{"field":"c"}}}
]}
]},
{"width":395,"height":465,"data":{"name":"forest"},
"encoding":{"y":{"field":"gene","type":"nominal","axis":null,"sort":null,"scale":{"type":"point","padding":0,"range":[15,450],"domain":["","AC073534.2","RAP2C-AS1","AL078587.1","AL353801.3","ZNF436-AS1","LINC01355","AC021321.1","SPAG5-AS1","PPP1R26-AS1","AC087286.2","NPTN-IT1","AC099850.4","AC006160.1","AL138921.1","AC010328.1","AC002128.1"]}}},
"layer":[
{"mark":{"type":"rule","color":"#000080","strokeWidth":3.5},"encoding":{"x":{"field":"lo","type":"quantitative","scale":{"domain":[0,8],"nice":false,"zero":false},"axis":{"values":[0,2,4,6,8],"title":"Hazard ratio","titleFont":"Liberation Sans","titleFontWeight":"normal","titleFontSize":25,"titlePadding":18,"titleX":205,"labelFont":"Liberation Sans","labelFontSize":23,"labelColor":"black","titleColor":"black","labelPadding":6,"tickSize":11,"tickColor":"black","tickWidth":1.5,"domainColor":"black","domainWidth":1.5,"grid":false,"labelFlush":false}},"x2":{"field":"hi"}}},
{"mark":{"type":"tick","color":"#000080","thickness":3.5,"size":18},"encoding":{"x":{"field":"lo","type":"quantitative"}}},
{"mark":{"type":"tick","color":"#000080","thickness":3.5,"size":18},"encoding":{"x":{"field":"hi","type":"quantitative"}}},
{"data":{"values":[{"hr":1}]},"mark":{"type":"rule","color":"black","strokeWidth":3,"strokeDash":[10,8]},"encoding":{"x":{"field":"hr","type":"quantitative"},"y":null}},
{"mark":{"type":"point","shape":"square","filled":true,"opacity":1,"size":300},"encoding":{"x":{"field":"hr","type":"quantitative"},"color":{"condition":{"test":"datum.hr>1","value":"#ff0000"},"value":"#0bee1e"}}}
]}
]},
{"width":924,"height":578,
"layer":[
{"data":{"name":"flows"},"mark":{"type":"area","interpolate":"monotone","opacity":0.5,"orient":"vertical"},"encoding":{"x":{"field":"x","type":"quantitative","scale":{"domain":[-0.9,14.25],"nice":false,"zero":false},"axis":null},"y":{"field":"a","type":"quantitative","stack":null,"scale":{"domain":[-5.08,20],"nice":false,"zero":false,"reverse":true},"axis":null},"y2":{"field":"b"},"color":{"field":"s","type":"nominal","legend":null,"scale":{"domain":["DBT","ATP7A","ATP7B","SLC31A1","DLAT","AC002128.1","AC006160.1","AC010328.1","AC021321.1","AC073534.2","AC087286.2","AC099850.4","AL078587.1","AL138921.1","AL353801.3","LINC01355","NPTN-IT1","PPP1R26-AS1","RAP2C-AS1","SPAG5-AS1","ZNF436-AS1","Protect","Risk"],"range":["#E64B35","#4DBBD5","#00A087","#3C5488","#F39B7F","#7E6148","#B09C85","#BC3C29","#0072B5","#E18727","#20854E","#7876B1","#6F99AD","#FFDC91","#EE4C97","#374E55","#DF8F44","#00A1D5","#B24745","#79AF97","#6A6599","#CD534C","#7AA6DC"]}},"detail":{"field":"t","type":"nominal"}}},
{"data":{"name":"strata"},"mark":{"type":"rect"},"encoding":{"x":{"field":"x0","type":"quantitative"},"x2":{"field":"x1"},"y":{"field":"y0","type":"quantitative"},"y2":{"field":"y1"},"color":{"field":"n","type":"nominal"}}},
{"data":{"name":"strata"},"mark":{"type":"text","font":"Liberation Serif","fontSize":17.5,"baseline":"middle","dy":3,"fill":"#111111"},"encoding":{"x":{"field":"xc","type":"quantitative"},"y":{"field":"yc","type":"quantitative"},"text":{"field":"n"}}},
{"data":{"values":[{"xc":0.5,"yc":-0.65,"n":"mRNA"},{"xc":7.1,"yc":-0.65,"n":"lncRNA"},{"xc":13.75,"yc":-0.65,"n":"RiskType"}]},"mark":{"type":"text","font":"Liberation Serif","fontSize":17.5,"baseline":"middle","fill":"#111111"},"encoding":{"x":{"field":"xc","type":"quantitative"},"y":{"field":"yc","type":"quantitative"},"text":{"field":"n"}}},
{"data":{"values":[{"xc":-0.1,"yc":-2.3,"n":"C"}]},"mark":{"type":"text","font":"Liberation Sans","fontWeight":"bold","fontSize":58,"align":"left","baseline":"middle","fill":"black"},"encoding":{"x":{"field":"xc","type":"quantitative"},"y":{"field":"yc","type":"quantitative"},"text":{"field":"n"}}}
]}
]}
]}
